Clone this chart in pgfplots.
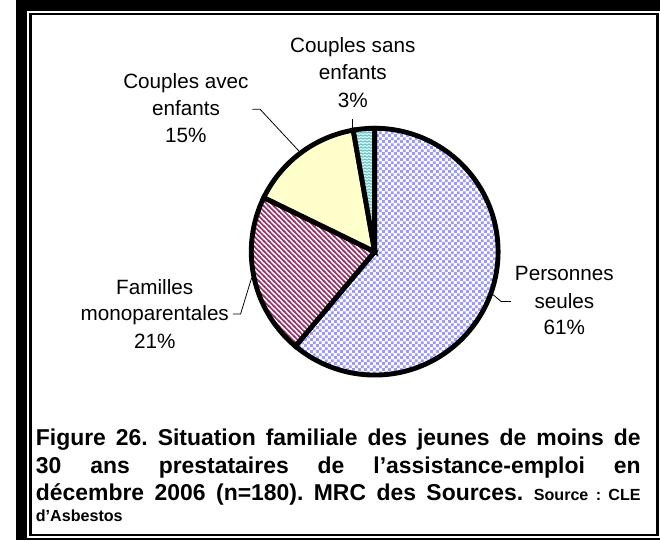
\documentclass[border=0pt]{standalone}
\usepackage{fontspec}
\setmainfont{Liberation Sans}
\usepackage{pgfplots}
\usepackage{pgfplotstable}
\pgfplotsset{compat=1.18}
\usetikzlibrary{patterns.meta}
\definecolor{checkblue}{HTML}{9999FF}
\definecolor{plum}{HTML}{993366}
\definecolor{lightyel}{HTML}{FFFFCC}
\definecolor{lightturq}{HTML}{CCFFFF}
\definecolor{turqdark}{HTML}{5FA8A8}

\tikzdeclarepattern{
  name=excelchecker,
  type=colored,
  bounding box={(0,0) and (6bp,6bp)},
  tile size={(6bp,6bp)},
  code={
    \path[fill=white] (0,0) rectangle (6bp,6bp);
    \path[fill=checkblue] (0,0) rectangle (3bp,3bp);
    \path[fill=checkblue] (3bp,3bp) rectangle (6bp,6bp);
  }
}
\tikzdeclarepattern{
  name=widenw,
  type=uncolored,
  bounding box={(0,0) and (5bp,5bp)},
  tile size={(5bp,5bp)},
  code={
    \pgfsetlinewidth{1.8bp}
    \pgfpathmoveto{\pgfpoint{0bp}{5bp}}\pgfpathlineto{\pgfpoint{5bp}{0bp}}
    \pgfpathmoveto{\pgfpoint{-1bp}{1bp}}\pgfpathlineto{\pgfpoint{1bp}{-1bp}}
    \pgfpathmoveto{\pgfpoint{4bp}{6bp}}\pgfpathlineto{\pgfpoint{6bp}{4bp}}
    \pgfusepath{stroke}
  }
}
\tikzdeclarepattern{
  name=zigzag,
  type=colored,
  bounding box={(0,0) and (4bp,3bp)},
  tile size={(4bp,3bp)},
  code={
    \path[fill=lightturq] (0,0) rectangle (4bp,3bp);
    \path[draw=turqdark, line width=0.8bp] (0,0.7bp) -- (2bp,2.3bp) -- (4bp,0.7bp);
  }
}

\begin{document}
\pgfplotstableread{
category count
Personnes 110
Familles 38
AvecEnfants 27
SansEnfants 5
}\piedata
\pgfplotstablegetelem{0}{count}\of\piedata\let\cA\pgfplotsretval
\pgfplotstablegetelem{1}{count}\of\piedata\let\cB\pgfplotsretval
\pgfplotstablegetelem{2}{count}\of\piedata\let\cC\pgfplotsretval
\pgfplotstablegetelem{3}{count}\of\piedata\let\cD\pgfplotsretval
\pgfmathsetmacro{\tot}{\cA+\cB+\cC+\cD}
\pgfmathsetmacro{\aO}{90}
\pgfmathsetmacro{\aA}{\aO-360*(\cA/\tot)}
\pgfmathsetmacro{\aB}{\aA-360*(\cB/\tot)}
\pgfmathsetmacro{\aC}{\aB-360*(\cC/\tot)}
\pgfmathsetmacro{\aD}{\aC-360*(\cD/\tot)}
\begin{tikzpicture}[x=1bp,y=1bp]
\useasboundingbox (0,0) rectangle (660,554);
% frame
\fill[black] (0,0) rectangle (660,554);
\fill[white] (11.5,2.7) rectangle (660,542.5);
\draw[line width=2.4bp] (14.5,5.3) rectangle (657.3,539.5);

\begin{axis}[at={(241bp,169.5bp)}, anchor=south west, scale only axis,
  width=253bp, height=253bp, xmin=-1, xmax=1, ymin=-1, ymax=1,
  hide axis, clip=false]
\filldraw[pattern=excelchecker, draw=black, line width=5bp]
  (axis cs:0,0) -- (axis cs:{cos(\aO)},{sin(\aO)}) arc[start angle=\aO, end angle=\aA, radius=126.5bp] -- cycle;
\filldraw[fill=white, draw=none]
  (axis cs:0,0) -- (axis cs:{cos(\aA)},{sin(\aA)}) arc[start angle=\aA, end angle=\aB, radius=126.5bp] -- cycle;
\filldraw[pattern=widenw, pattern color=plum, draw=black, line width=5bp]
  (axis cs:0,0) -- (axis cs:{cos(\aA)},{sin(\aA)}) arc[start angle=\aA, end angle=\aB, radius=126.5bp] -- cycle;
\filldraw[fill=lightyel, draw=black, line width=5bp]
  (axis cs:0,0) -- (axis cs:{cos(\aB)},{sin(\aB)}) arc[start angle=\aB, end angle=\aC, radius=126.5bp] -- cycle;
\filldraw[pattern=zigzag, draw=black, line width=5bp]
  (axis cs:0,0) -- (axis cs:{cos(\aC)},{sin(\aC)}) arc[start angle=\aC, end angle=\aD, radius=126.5bp] -- cycle;
\end{axis}

% leader lines
\draw[line width=0.8bp] (242,442) -- (250,442) -- (290,399);
\draw[line width=0.8bp] (222,232) -- (230,232) -- (241.3,269);
\draw[line width=0.8bp] (488.7,252) -- (497,245) -- (507,245);
\draw[line width=0.8bp] (345,432) -- (345,423);

% labels
\begin{scope}[every node/.style={anchor=base, inner sep=0pt, font=\fontsize{21.2bp}{27.5bp}\selectfont}]
\node at (345,500) {Couples sans};
\node at (345,472) {enfants};
\node at (345,444) {3\%};
\node at (174,463) {Couples avec};
\node at (174,435.5) {enfants};
\node at (174,408) {15\%};
\node at (142,252) {Familles};
\node at (142,225) {monoparentales};
\node at (142,197) {21\%};
\node at (562,266) {Personnes};
\node at (562,238) {seules};
\node at (562,211) {61\%};
\end{scope}

% caption
\node[anchor=base west, inner sep=0pt] at (20,97) {\begin{minipage}[t]{620bp}%
\parindent=0pt\parskip=0pt\tolerance=10000\hyphenpenalty=10000\frenchspacing
\fontsize{23.5bp}{28bp}\selectfont\bfseries
Figure 26. Situation familiale des jeunes de moins de\linebreak
30 ans prestataires de l’assistance-emploi en\linebreak
décembre 2006 (n=180). MRC des Sources. {\fontsize{16.5bp}{20bp}\selectfont Source : CLE}{\parfillskip=0pt\par}
{\fontsize{16.5bp}{22bp}\selectfont d’Asbestos\par}
\end{minipage}};
\end{tikzpicture}
\end{document}
